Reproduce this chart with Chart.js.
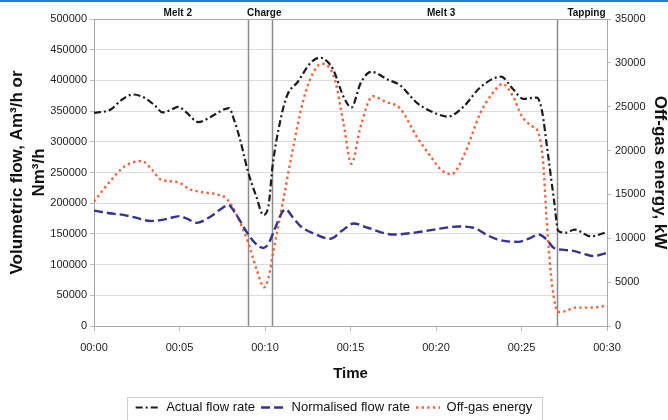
<!DOCTYPE html>
<html><head><meta charset="utf-8">
<script src="https://cdn.jsdelivr.net/npm/chart.js@4.4.1/dist/chart.umd.min.js"></script>
<style>
html,body{margin:0;padding:0;background:#fff;}
#wrap{position:relative;width:668px;height:420px;overflow:hidden;}
#topbar{position:absolute;left:0;top:0;width:668px;height:2px;background:#2a7fcc;}
canvas{display:block;}
</style></head><body>
<div id="wrap"><canvas id="c" width="668" height="420"></canvas><div id="topbar"></div></div>
<script>
// ---- data (minutes, values) ----
const tickMinutes = [0, 5, 10, 15, 20, 25, 30];
const tickLabels = ['00:00', '00:05', '00:10', '00:15', '00:20', '00:25', '00:30'];

const actualTime = [0, 1.0, 1.6, 2.3, 3.0, 3.6, 4.0, 4.5, 4.9, 5.4, 6.1, 6.8, 7.4, 7.9, 8.2, 8.55, 9.0, 9.5, 9.9, 10.2, 10.45, 10.9, 11.3, 11.9, 12.65, 13.2, 13.6, 14.0, 14.6, 15.05, 15.6, 16.2, 17.2, 17.9, 18.9, 20.1, 20.7, 21.6, 22.6, 23.8, 24.5, 25.1, 25.9, 26.2, 26.5, 26.9, 27.15, 27.6, 28.1, 29.05, 30];
const actualFlow = [347000, 353000, 368000, 377000, 371000, 358000, 348000, 352000, 357000, 348000, 332000, 340000, 350000, 355000, 335000, 303000, 252000, 210000, 181000, 195000, 262000, 335000, 376000, 397000, 428000, 437000, 432000, 417000, 373000, 356000, 396000, 414000, 401000, 392000, 363000, 345000, 341000, 357000, 389000, 406000, 386000, 370000, 372000, 350000, 290000, 205000, 155000, 152000, 157000, 146000, 153000];

const normTime = [0, 0.8, 1.7, 2.5, 3.3, 4.2, 5.0, 5.5, 6.0, 6.8, 7.4, 7.85, 8.3, 9.0, 9.5, 9.9, 10.2, 10.6, 11.0, 11.2, 11.6, 12.1, 13.0, 13.8, 14.5, 15.2, 16.0, 17.5, 19.0, 20.1, 21.3, 22.2, 23.0, 23.6, 24.8, 25.5, 26.0, 26.5, 26.9, 27.5, 28.1, 28.7, 29.2, 30];
const normFlow = [188000, 184000, 181000, 176000, 171000, 174000, 179000, 174000, 168000, 178000, 190000, 197000, 182000, 150000, 133000, 127000, 134000, 160000, 185000, 190000, 178000, 162000, 149000, 142000, 155000, 167000, 160000, 149000, 153000, 158000, 162000, 160000, 148000, 141000, 137000, 143000, 149000, 140000, 127000, 124000, 122000, 117000, 114000, 119000];

const energyTime = [0, 0.9, 1.8, 2.8, 3.4, 3.9, 4.9, 5.6, 6.2, 7.2, 7.7, 8.0, 8.5, 9.0, 9.5, 9.95, 10.2, 10.5, 11.1, 11.65, 12.25, 12.8, 13.3, 13.7, 14.1, 14.6, 15.05, 15.6, 16.3, 17.0, 17.9, 18.9, 19.7, 20.3, 20.9, 21.6, 22.6, 23.3, 23.9, 24.5, 25.0, 25.6, 25.95, 26.25, 26.5, 26.8, 27.15, 27.6, 28.1, 29.0, 30];
const offGasEnergy = [14200, 16400, 18200, 18800, 17800, 16700, 16400, 15600, 15300, 15000, 14600, 13900, 12000, 9600, 6500, 4400, 5500, 8600, 14700, 20400, 25800, 28800, 29900, 29600, 28000, 23000, 18500, 22800, 26200, 25600, 24800, 21500, 19300, 17800, 17300, 19300, 24300, 26500, 27600, 26200, 24000, 22800, 22200, 19000, 11300, 4500, 1600, 1700, 2100, 2100, 2300];

const phaseBoundaries = [9.02, 10.43, 27.07];
const phaseNames = ['Melt 2', 'Charge', 'Melt 3', 'Tapping'];
const phaseLabelAt = [4.9, 9.96, 20.3, 28.8];

const seriesNames = ['Actual flow rate', 'Normalised flow rate', 'Off-gas energy'];

// ---- helpers ----
const pairs = (xs, ys) => xs.map((x, i) => ({x: x, y: ys[i]}));
const FONT = "'Liberation Sans', Arial, Helvetica, sans-serif";
Chart.defaults.font.family = FONT;

const phasePlugin = {
  id: 'phases',
  beforeDatasetsDraw(chart) {
    const {ctx, chartArea: a, scales: {x}} = chart;
    ctx.save();
    ctx.strokeStyle = '#8c8c8c';
    ctx.lineWidth = 1.5;
    phaseBoundaries.forEach(t => {
      const px = Math.round(x.getPixelForValue(t)) + 0.5;
      ctx.beginPath(); ctx.moveTo(px, a.top); ctx.lineTo(px, a.bottom); ctx.stroke();
    });
    ctx.strokeStyle = '#a8a8a8';
    ctx.lineWidth = 1;
    ctx.strokeRect(Math.round(a.left) + 0.5, Math.round(a.top) + 0.5, Math.round(a.right - a.left), Math.round(a.bottom - a.top));
    ctx.fillStyle = '#111';
    ctx.font = 'bold 10px ' + FONT;
    ctx.textAlign = 'center';
    ctx.textBaseline = 'middle';
    phaseNames.forEach((n, i) => ctx.fillText(n, x.getPixelForValue(phaseLabelAt[i]), 13));
    ctx.restore();
  }
};

const legendShift = 4;
const legendBoxPlugin = {
  id: 'legendBox',
  afterLayout(chart) {
    const lg = chart.legend;
    if (lg) { lg.top += legendShift; lg.bottom += legendShift; }
  },
  afterDraw(chart) {
    const lg = chart.legend;
    if (!lg || !lg.lineWidths) return;
    const pad = lg.options.labels.padding;
    const rowW = lg.lineWidths[0] - pad;
    const rowLeft = (lg.left + pad + lg.right - lg.lineWidths[0]) / 2;
    const fs = lg.options.labels.font.size;
    const cy = lg.top + pad + fs / 2;
    const {ctx} = chart;
    ctx.save();
    ctx.strokeStyle = '#cfcfcf';
    ctx.lineWidth = 1;
    ctx.strokeRect(Math.round(rowLeft - 9) + 0.5, Math.round(cy - 11) + 0.5, Math.round(rowW + 18), 23);
    ctx.restore();
  }
};

new Chart(document.getElementById('c'), {
  type: 'line',
  data: {
    datasets: [
      {label: seriesNames[0], data: pairs(actualTime, actualFlow), yAxisID: 'y',
       borderColor: '#1c1c1c', backgroundColor: '#1c1c1c', borderWidth: 2.2, borderDash: [7, 3, 2, 3],
       pointRadius: 0, cubicInterpolationMode: 'monotone', fill: false},
      {label: seriesNames[1], data: pairs(normTime, normFlow), yAxisID: 'y',
       borderColor: '#34338f', backgroundColor: '#34338f', borderWidth: 2.4, borderDash: [9, 4],
       pointRadius: 0, cubicInterpolationMode: 'monotone', fill: false},
      {label: seriesNames[2], data: pairs(energyTime, offGasEnergy), yAxisID: 'y1',
       borderColor: '#f2623b', backgroundColor: '#f2623b', borderWidth: 2.4, borderDash: [2.4, 3.2],
       pointRadius: 0, cubicInterpolationMode: 'monotone', fill: false}
    ]
  },
  options: {
    responsive: false, animation: false, devicePixelRatio: 1,
    layout: {padding: {top: 19, left: 0, right: 0, bottom: 0}},
    plugins: {
      tooltip: {enabled: false},
      legend: {
        position: 'bottom',
        labels: {usePointStyle: true, pointStyle: 'line', pointStyleWidth: 24, boxHeight: 13,
                 padding: 6, color: '#111', font: {size: 13, family: FONT},
                 generateLabels(chart) {
                   const items = Chart.defaults.plugins.legend.labels.generateLabels(chart);
                   items.forEach(it => {
                     const ds = chart.data.datasets[it.datasetIndex];
                     it.lineDash = ds.borderDash;
                     it.lineWidth = ds.borderWidth;
                     it.strokeStyle = ds.borderColor;
                     it.fillStyle = ds.borderColor;
                     it.pointStyle = 'line';
                   });
                   return items;
                 }}
      }
    },
    scales: {
      x: {
        type: 'linear', min: 0, max: 30,
        ticks: {stepSize: 5, color: '#222', font: {size: 11}, padding: 10, maxRotation: 0,
                callback: v => { const i = tickMinutes.indexOf(v); return i >= 0 ? tickLabels[i] : ''; }},
        grid: {drawOnChartArea: false, drawTicks: true, tickLength: 5, color: '#bdbdbd'},
        border: {display: false},
        title: {display: true, text: 'Time', color: '#111', font: {size: 15, weight: 'bold', lineHeight: 1.2}, padding: {top: 0, bottom: 8}},
        afterFit(s) { s.height = 65; }
      },
      y: {
        position: 'left', min: 0, max: 500000,
        ticks: {stepSize: 50000, color: '#222', font: {size: 11}, padding: 3, callback: v => String(v)},
        grid: {color: '#dcdcdc', lineWidth: 1, drawTicks: true, tickLength: 4, tickColor: '#bdbdbd'},
        border: {display: false},
        title: {display: true, text: ['Volumetric flow, Am³/h or', 'Nm³/h'], color: '#111',
                font: {size: 17, weight: 'bold', lineHeight: 1.3}, padding: {top: 6, bottom: 0}},
        afterFit(s) { s.width = 94; }
      },
      y1: {
        position: 'right', min: 0, max: 35000,
        ticks: {stepSize: 5000, color: '#222', font: {size: 11}, padding: 4, callback: v => String(v)},
        grid: {drawOnChartArea: false, drawTicks: true, tickLength: 4, tickColor: '#bdbdbd'},
        border: {display: false},
        title: {display: true, text: 'Off-gas energy, kW', color: '#111',
                font: {size: 17, weight: 'bold', lineHeight: 1.0}, padding: {top: 0, bottom: 0}},
        afterFit(s) { s.width = 61; }
      }
    }
  },
  plugins: [phasePlugin, legendBoxPlugin]
});
</script>
</body></html>
